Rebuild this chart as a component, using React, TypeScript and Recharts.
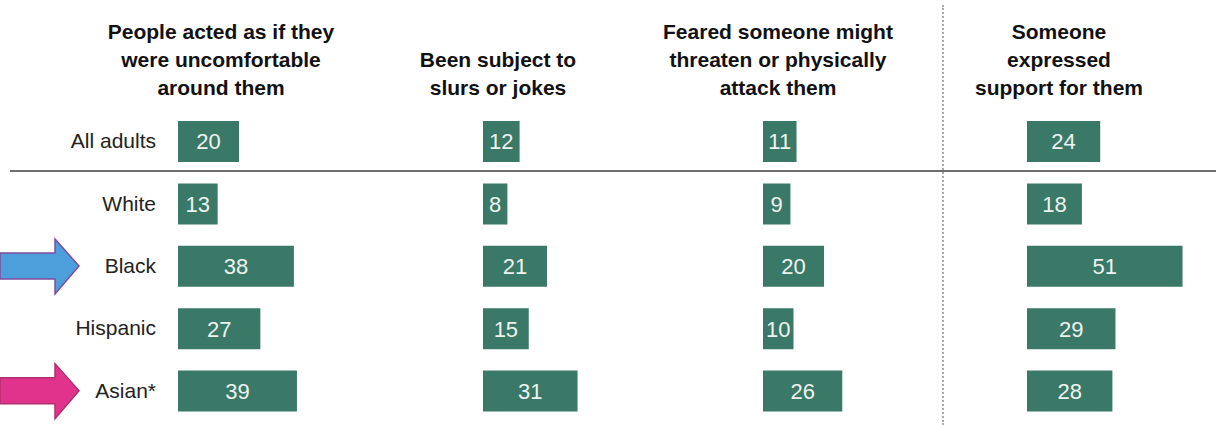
import { BarChart, Bar, XAxis, YAxis, LabelList } from "recharts";

const groups = ["All adults", "White", "Black", "Hispanic", "Asian*"];
const uncomfortable = [20, 13, 38, 27, 39];
const slursJokes = [12, 8, 21, 15, 31];
const feared = [11, 9, 20, 10, 26];
const support = [24, 18, 51, 29, 28];

const headers = [
  ["People acted as if they", "were uncomfortable", "around them"],
  ["Been subject to", "slurs or jokes"],
  ["Feared someone might", "threaten or physically", "attack them"],
  ["Someone", "expressed", "support for them"],
];

const highlighted: Record<string, string[]> = {
  Black: ["#4d9fdb", "#7d4c9c"],
  "Asian*": ["#e2338c", "#b0306f"],
};

const GREEN = "#3a7867";
const FONT = "'Liberation Sans', Arial, sans-serif";
const CHART_H = 425;
const MARGIN = { top: 110, right: 0, bottom: 3, left: 0 };
const PLOT_W = 183;

function rows(values: number[]) {
  return groups.map((g, i) => ({ group: g, value: values[i] }));
}

// row label, plus the arrow for highlighted groups
function GroupTick({ x, y, payload }: any) {
  const label = payload.value as string;
  const arrow = highlighted[label];
  return (
    <g>
      {arrow && (
        <path
          d={`M0 ${y - 13} L55 ${y - 13} L55 ${y - 27} L79 ${y} L55 ${y + 28} L55 ${y + 13} L0 ${y + 13} Z`}
          fill={arrow[0]}
          stroke={arrow[1]}
          strokeWidth={1.5}
        />
      )}
      <text
        x={x - 14}
        y={y}
        dy={7}
        textAnchor="end"
        fontSize={21}
        fontFamily={FONT}
        fill="#222"
      >
        {label}
      </text>
    </g>
  );
}

function Panel({ values, left, showGroups }: { values: number[]; left: number; showGroups?: boolean }) {
  const yWidth = showGroups ? 178 : 0;
  return (
    <div style={{ position: "absolute", left: showGroups ? 0 : left, top: 0 }}>
      <BarChart
        width={yWidth + PLOT_W}
        height={CHART_H}
        data={rows(values)}
        layout="vertical"
        margin={MARGIN}
        barCategoryGap={0}
      >
        <XAxis type="number" domain={[0, 60]} hide />
        <YAxis
          type="category"
          dataKey="group"
          width={yWidth}
          hide={!showGroups}
          axisLine={false}
          tickLine={false}
          tick={<GroupTick />}
          interval={0}
        />
        <Bar dataKey="value" fill={GREEN} barSize={41} isAnimationActive={false}>
          <LabelList
            dataKey="value"
            position="center"
            fill="#eef3ef"
            fontSize={22}
            fontFamily={FONT}
          />
        </Bar>
      </BarChart>
    </div>
  );
}

const headerCenters = [221, 498, 778, 1059];
const panelLefts = [178, 483, 763, 1027];
const panelValues = [uncomfortable, slursJokes, feared, support];

export default function App() {
  return (
    <div
      style={{
        position: "absolute",
        left: 0,
        top: 0,
        width: 1216,
        height: 425,
        background: "#fff",
        overflow: "hidden",
        fontFamily: FONT,
      }}
    >
      {headers.map((lines, i) => (
        <div
          key={i}
          style={{
            position: "absolute",
            left: headerCenters[i] - 150,
            width: 300,
            bottom: 425 - 102,
            textAlign: "center",
            fontWeight: "bold",
            fontSize: 21,
            lineHeight: "28px",
            color: "#111",
          }}
        >
          {lines.map((l) => (
            <div key={l}>{l}</div>
          ))}
        </div>
      ))}

      {/* divider under "All adults" */}
      <div
        style={{
          position: "absolute",
          left: 10,
          right: 0,
          top: 170,
          height: 0,
          borderTop: "2px solid #6e6e6e",
        }}
      />
      {/* dotted separator before the last panel */}
      <div
        style={{
          position: "absolute",
          left: 942,
          top: 5,
          bottom: 0,
          borderLeft: "2px dotted #aaa",
        }}
      />

      {panelValues.map((v, i) => (
        <Panel key={i} values={v} left={panelLefts[i]} showGroups={i === 0} />
      ))}
    </div>
  );
}
